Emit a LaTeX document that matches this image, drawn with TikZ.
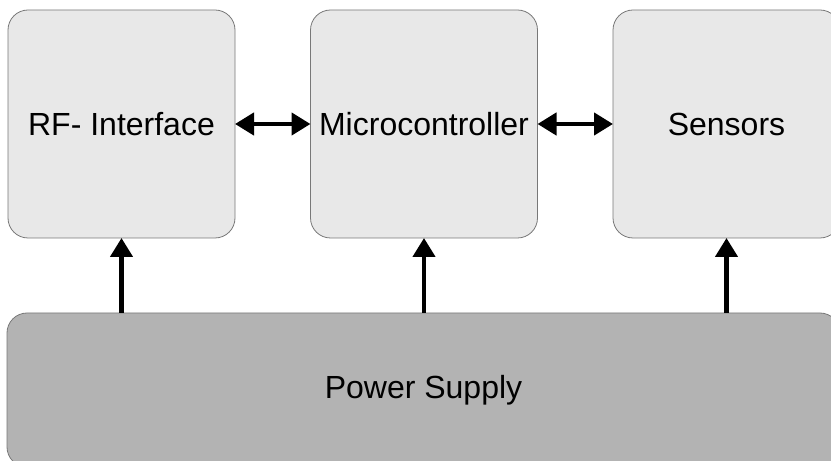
\documentclass[tikz,border=0pt]{standalone}
\usepackage{fontspec}
\setmainfont{Liberation Sans}
\usepackage{tikz}
\usetikzlibrary{arrows.meta,calc}
\definecolor{boxgray}{RGB}{232,232,232}
\definecolor{supplygray}{RGB}{179,179,179}
\definecolor{edgegray}{RGB}{120,120,120}
\begin{document}
\begin{tikzpicture}[x=1pt,y=1pt,
  block/.style={draw=edgegray,line width=0.8pt,fill=boxgray,rounded corners=20pt,
    minimum width=227pt,minimum height=228pt,outer sep=0pt,
    font=\fontsize{32}{38}\selectfont},
  supply/.style={block,fill=supplygray,minimum width=833pt,minimum height=154pt},
  link/.style={line width=4.4pt,-{Triangle[length=19pt,width=22pt]}},
  both/.style={link,{Triangle[length=19pt,width=22pt]}-{Triangle[length=19pt,width=22pt]}}]
\useasboundingbox (0,0) rectangle (831,461);
\node[block] (rf) at (121.5,337) {RF- Interface};
\node[block] (mcu) at (424,337) {Microcontroller};
\node[block] (sens) at (726.5,337) {Sensors};
\node[supply] (power) at (423.5,71) {Power Supply};
\draw[both] (rf.east) -- (mcu.west);
\draw[both] (mcu.east) -- (sens.west);
\draw[link] (power.north -| rf.south) -- (rf.south);
\draw[link] (power.north -| mcu.south) -- (mcu.south);
\draw[link] (power.north -| sens.south) -- (sens.south);
\end{tikzpicture}
\end{document}
